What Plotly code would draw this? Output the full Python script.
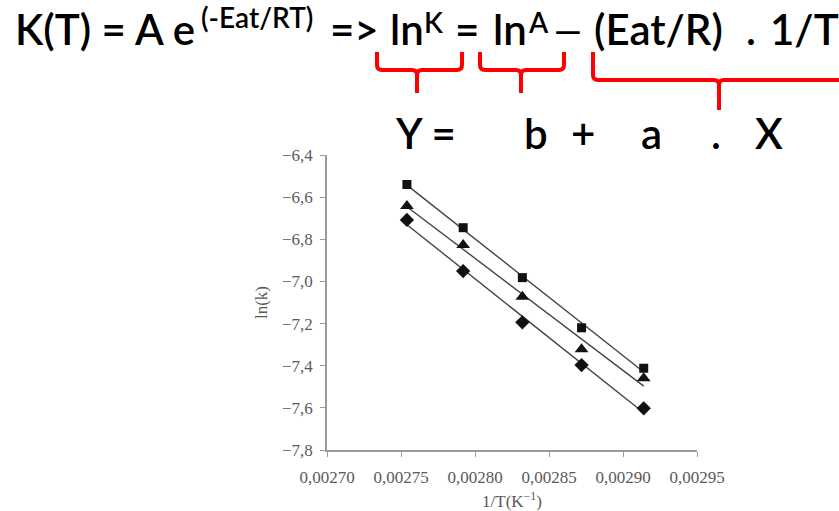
import numpy as np
import plotly.graph_objects as go

# ---------------- data ----------------
inv_T = [0.002754, 0.002792, 0.002832, 0.002872, 0.002914]
ln_k_square = [-6.54, -6.745, -6.982, -7.22, -7.412]
ln_k_triangle = [-6.642, -6.827, -7.073, -7.322, -7.46]
ln_k_diamond = [-6.708, -6.951, -7.194, -7.397, -7.602]

series = [
    ("square", ln_k_square, "square", 9),
    ("triangle", ln_k_triangle, "triangle-up", 12),
    ("diamond", ln_k_diamond, "diamond", 11),
]

W, H = 839, 511
L, R, T, B = 327, 697, 155, 450  # plot area in pixels


def px(x):
    return (x - L) / (R - L)


def py(y):
    return (B - y) / (B - T)


fig = go.Figure()

xs = np.array(inv_T)
for name, vals, sym, size in series:
    a, b = np.polyfit(xs, np.array(vals), 1)
    xl = np.array([xs.min(), xs.max()])
    fig.add_trace(go.Scatter(x=xl, y=a * xl + b, mode="lines",
                             line=dict(color="#444444", width=1.4),
                             showlegend=False, hoverinfo="skip"))
    fig.add_trace(go.Scatter(x=inv_T, y=vals, mode="markers", name=name,
                             marker=dict(symbol=sym, size=size, color="#111111"),
                             showlegend=False))

axis_font = dict(family="Liberation Serif", size=17, color="#5a5a5a")

fig.update_layout(
    width=W, height=H,
    margin=dict(l=L, r=W - R, t=T, b=H - B, autoexpand=False),
    paper_bgcolor="white", plot_bgcolor="white",
    separators=",.",
    xaxis=dict(range=[0.0027, 0.00295], dtick=0.00005, tick0=0.0027,
               tickformat=".5f", showgrid=False, zeroline=False,
               showline=True, linecolor="#9a9a9a", linewidth=1.5,
               ticks="outside", ticklen=5, tickcolor="#9a9a9a",
               tickfont=axis_font, ticklabelstandoff=6, automargin=False,
               title=dict(text="1/T(K<sup>−1</sup>)", font=axis_font, standoff=12)),
    yaxis=dict(range=[-7.8, -6.4], dtick=0.2, tick0=-7.8,
               tickformat=".1f", showgrid=False, zeroline=False,
               showline=True, linecolor="#9a9a9a", linewidth=1.5,
               ticks="outside", ticklen=5, tickcolor="#9a9a9a",
               tickfont=axis_font, ticklabelstandoff=4, automargin=False,
               title=dict(text="ln(k)", font=axis_font, standoff=10)),
)

# ---------------- header text ----------------
hfont = "Lato"
pieces = [
    # text, left x px, center y px, size
    ("K(T) = A e", 13, 29, 42),
    ("(-Eat/RT)", 199, 17, 28),
    ("=>", 328, 29, 42),
    ("ln", 388, 29, 42),
    ("K", 422, 22, 28),
    ("=", 453, 29, 42),
    ("ln", 491, 29, 42),
    ("A", 526, 22, 28),
    ("—", 552, 29, 35),
    ("(Eat/R)", 592, 29, 42),
    (".", 744, 29, 42),
    ("1/T", 768, 29, 42),
    ("Y =", 393, 133, 42),
    ("b", 522, 133, 42),
    ("+", 569, 133, 42),
    ("a", 639, 133, 42),
    (".", 709, 133, 42),
    ("X", 753, 133, 42),
]
for text, x, y, s in pieces:
    fig.add_annotation(text=text, x=px(x), y=py(y), xref="paper", yref="paper",
                       xanchor="left", yanchor="middle", showarrow=False,
                       font=dict(family=hfont, size=s, color="black", weight=600))

# ---------------- red brackets ----------------
def bracket(xl, xr, xs_, ytop, ybar, ybot, r=5):
    pts = [
        f"M {px(xl)},{py(ytop)}",
        f"L {px(xl)},{py(ybar - r)}",
        f"Q {px(xl)},{py(ybar)} {px(xl + r)},{py(ybar)}",
        f"L {px(xs_ - r)},{py(ybar)}",
        f"Q {px(xs_)},{py(ybar)} {px(xs_)},{py(ybar + r)}",
        f"L {px(xs_)},{py(ybot)}",
        f"M {px(xs_)},{py(ybar + r)}",
        f"Q {px(xs_)},{py(ybar)} {px(xs_ + r)},{py(ybar)}",
        f"L {px(xr - r)},{py(ybar)}",
        f"Q {px(xr)},{py(ybar)} {px(xr)},{py(ybar - r)}",
        f"L {px(xr)},{py(ytop)}",
    ]
    fig.add_shape(type="path", path=" ".join(pts), xref="paper", yref="paper",
                  line=dict(color="#ff0000", width=4))


bracket(377, 462, 417, 52, 70, 93)
bracket(480, 564, 521, 52, 70, 93)
bracket(593, 860, 719, 52, 80, 110)

fig.write_html("out.html")
